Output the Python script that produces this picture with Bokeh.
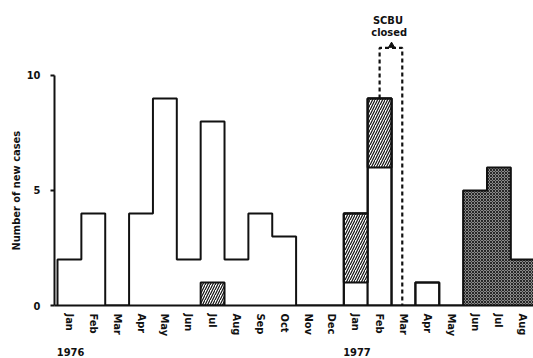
from bokeh.plotting import figure
from bokeh.models import FixedTicker, Label, Range1d, LinearAxis, Title
from bokeh.embed import file_html
from bokeh.resources import INLINE

# ---- data ----
months = ["Jan", "Feb", "Mar", "Apr", "May", "Jun", "Jul", "Aug", "Sep", "Oct", "Nov", "Dec",
          "Jan", "Feb", "Mar", "Apr", "May", "Jun", "Jul", "Aug"]
years = ["1976", "1977"]
year_first_month = [0, 12]
total_cases = [2, 4, 0, 4, 9, 2, 8, 2, 4, 3, 0, 0,
               4, 9, 0, 1, 0, 5, 6, 2]
# hatched part of a month's cases (month index, from, to)
hatched_month = [6, 12, 13]
hatched_from = [0, 1, 6]
hatched_to = [1, 4, 9]
boxed_months = [12, 13, 15]          # months drawn as separate boxes
stippled_months = [17, 18, 19]       # Jun-Aug 1977
closed_month = 14                    # Mar 1977: SCBU closed
y_ticks = [0, 5, 10]

FONT = "DejaVu Sans Condensed"
INK = "#111111"

p = figure(width=533, height=358, output_backend="svg", toolbar_location=None,
           x_range=Range1d(-0.126, 19.95), y_range=Range1d(0, 13.26),
           min_border_left=54, min_border_right=0, min_border_top=0, min_border_bottom=53)
p.outline_line_color = None
p.grid.visible = False
p.background_fill_color = "white"

# ---- fills ----
p.quad(left=boxed_months, right=[m + 1 for m in boxed_months],
       bottom=0, top=[total_cases[m] for m in boxed_months],
       fill_color="white", line_color=INK, line_width=2)
p.quad(left=stippled_months, right=[m + 1 for m in stippled_months],
       bottom=0, top=[total_cases[m] for m in stippled_months],
       fill_color="#8a8a8a", line_color=None,
       hatch_pattern="diagonal_cross", hatch_scale=3, hatch_color="#1c1c1c", hatch_weight=0.9)
p.quad(left=hatched_month, right=[m + 1 for m in hatched_month],
       bottom=hatched_from, top=hatched_to,
       fill_color="white", line_color=INK, line_width=2,
       hatch_pattern="right_diagonal_line", hatch_scale=5, hatch_color=INK, hatch_weight=1.2)

# ---- histogram step outline ----
xs, ys = [0], [0]
for i, v in enumerate(total_cases):
    xs += [i, i + 1]
    ys += [v, v]
xs.append(len(total_cases))
ys.append(0)
p.line(xs, ys, line_color=INK, line_width=2)

# ---- SCBU closed marker ----
feb = closed_month - 1
top = 11.2
p.line([feb + 0.5, feb + 0.5, closed_month + 0.45, closed_month + 0.45],
       [total_cases[feb], top, top, 0], line_color=INK, line_width=2.2, line_dash="4 3")
p.scatter([closed_month], [top + 0.1], marker="triangle", size=6,
          fill_color=INK, line_color=INK)
p.add_layout(Label(x=closed_month - 0.15, y=12.41, text="SCBU", text_align="center",
                   text_baseline="middle", text_font=FONT, text_font_style="bold",
                   text_font_size="11px", text_color=INK))
p.add_layout(Label(x=closed_month - 0.1, y=11.85, text="closed", text_align="center",
                   text_baseline="middle", text_font=FONT, text_font_style="bold",
                   text_font_size="11px", text_color=INK))

# ---- axes ----
xa = p.xaxis[0]
xa.ticker = FixedTicker(ticks=[i + 0.5 for i in range(len(months))])
xa.major_label_overrides = {i + 0.5: months[i] for i in range(len(months))}
xa.major_label_orientation = "vertical"
xa.major_tick_line_color = None
xa.major_tick_out = 0
xa.major_tick_in = 0
xa.minor_tick_line_color = None
xa.major_label_standoff = 8
xa.axis_line_width = 2
xa.axis_line_color = INK
xa.major_label_text_font = FONT
xa.major_label_text_font_style = "bold"
xa.major_label_text_font_size = "11px"
xa.major_label_text_color = INK

# year labels as a second, line-less axis below the month axis
year_pos = [m + 0.55 for m in year_first_month]
year_axis = LinearAxis(ticker=FixedTicker(ticks=year_pos),
                       major_label_overrides={pos: yr for pos, yr in zip(year_pos, years)},
                       axis_line_color=None, major_tick_line_color=None,
                       minor_tick_line_color=None, major_tick_out=0, major_tick_in=0,
                       major_label_standoff=8, major_label_text_font=FONT,
                       major_label_text_font_style="bold", major_label_text_font_size="11px",
                       major_label_text_color=INK)
p.add_layout(year_axis, "below")

ya = p.yaxis[0]
ya.ticker = FixedTicker(ticks=y_ticks)
ya.bounds = (0, 10)
ya.axis_line_width = 2
ya.axis_line_color = INK
ya.major_tick_out = 4
ya.major_tick_in = 0
ya.major_tick_line_width = 2
ya.major_tick_line_color = INK
ya.minor_tick_line_color = None
ya.major_label_standoff = 10
ya.major_label_text_font = FONT
ya.major_label_text_font_style = "bold"
ya.major_label_text_font_size = "11px"
ya.major_label_text_color = INK

p.add_layout(Title(text="Number of new cases", align="left", offset=55, standoff=2,
                   text_font=FONT, text_font_style="bold", text_font_size="11px",
                   text_color=INK), "left")

open("out.html", "w").write(file_html(p, INLINE))
